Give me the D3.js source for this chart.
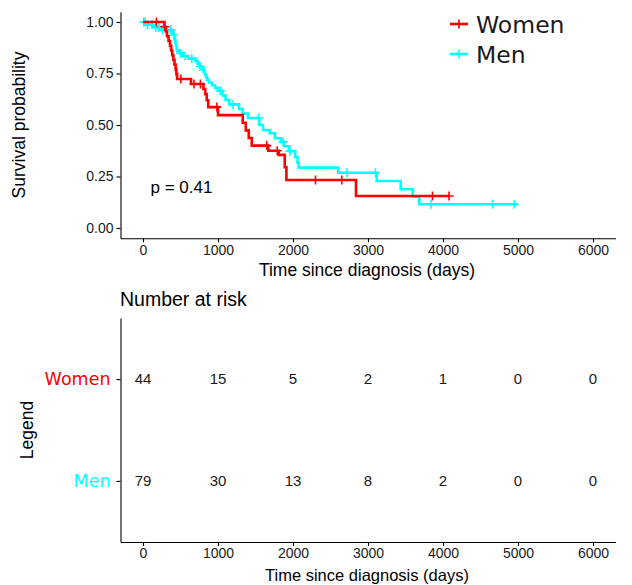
<!DOCTYPE html>
<html>
<head>
<meta charset="utf-8">
<script src="https://cdn.jsdelivr.net/npm/d3@7"></script>
<style>
  body { margin: 0; background: #fff; }
  text { font-family: "Liberation Sans", Arial, sans-serif; }
</style>
</head>
<body>
<svg id="chart" width="632" height="585"></svg>
<script>
// Kaplan-Meier step points (time in days, survival after the event)
let women_time = [0, 285, 305, 320, 340, 360, 375, 390, 405, 420, 435, 445, 455, 640, 805, 830, 850, 870, 1000, 1330, 1370, 1410, 1450, 1670, 1810, 1890, 1912, 2840, 4093]
let women_surv = [1, 0.977, 0.954, 0.931, 0.908, 0.885, 0.862, 0.839, 0.816, 0.793, 0.770, 0.747, 0.723, 0.699, 0.675, 0.650, 0.620, 0.587, 0.548, 0.511, 0.474, 0.437, 0.400, 0.375, 0.355, 0.295, 0.233, 0.155, 0.155]
let women_censor = [180, 290, 505, 680, 765, 985, 1650, 1790, 2300, 2650, 3860, 4080]

let men_time = [0, 60, 130, 250, 390, 405, 415, 425, 432, 440, 447, 453, 480, 530, 600, 700, 730, 760, 790, 810, 825, 840, 855, 880, 920, 960, 1000, 1060, 1100, 1150, 1280, 1330, 1400, 1550, 1600, 1690, 1760, 1840, 1880, 1950, 2030, 2060, 2075, 2604, 3116, 3436, 3596, 3684, 4991]
let men_surv = [1, 0.987, 0.975, 0.962, 0.949, 0.937, 0.924, 0.911, 0.899, 0.886, 0.873, 0.861, 0.848, 0.835, 0.822, 0.810, 0.797, 0.784, 0.771, 0.758, 0.745, 0.732, 0.719, 0.706, 0.693, 0.680, 0.666, 0.644, 0.622, 0.600, 0.578, 0.556, 0.534, 0.500, 0.476, 0.460, 0.436, 0.418, 0.397, 0.373, 0.345, 0.317, 0.293, 0.268, 0.228, 0.188, 0.152, 0.115, 0.115]
let men_censor = [10, 30, 60, 120, 170, 210, 260, 365, 410, 500, 560, 650, 760, 1030, 1200, 1540, 1870, 1960, 2720, 3100, 3840, 4660, 4950]

let groups = ["Women", "Men"]
let group_colors = ["#FF0000", "#00FFFF"]
let x_ticks = [0, 1000, 2000, 3000, 4000, 5000, 6000]
let y_ticks = [0, 0.25, 0.5, 0.75, 1]
let women_risk = [44, 15, 5, 2, 1, 0, 0]
let men_risk = [79, 30, 13, 8, 2, 0, 0]
let p_value = "p = 0.41"

let svg = d3.select("#chart")

let x = d3.scaleLinear()
    .domain([-300, 6300])
    .range([120.5, 615.5])

let y = d3.scaleLinear()
    .domain([-0.05, 1.05])
    .range([238.3, 11.7])

let y_risk = d3.scalePoint()
    .domain(groups)
    .range([318, 542])
    .padding(0.6)

function style_axis(g) {
  g.select(".domain").attr("stroke", "#000").attr("stroke-width", 1.1)
  g.selectAll(".tick line").attr("stroke", "#000").attr("stroke-width", 1.1)
  g.selectAll(".tick text")
      .attr("fill", "#1a1a1a")
      .style("font-size", "14px")
      .style("font-family", "'Liberation Sans', Arial, sans-serif")
}

// ---- survival plot ----
svg.append("g")
    .attr("transform", "translate(0,238.3)")
    .call(d3.axisBottom(x).tickValues(x_ticks).tickFormat(d3.format("d")).tickSize(4).tickPadding(3).tickSizeOuter(0))
    .call(style_axis)

svg.append("g")
    .attr("transform", "translate(120.5,0)")
    .call(d3.axisLeft(y).tickValues(y_ticks).tickFormat(d3.format(".2f")).tickSize(4).tickPadding(3).tickSizeOuter(0))
    .call(style_axis)

svg.append("text")
    .attr("x", 367)
    .attr("y", 276)
    .attr("text-anchor", "middle")
    .style("font-size", "17.5px")
    .text("Time since diagnosis (days)")

svg.append("text")
    .attr("transform", "translate(25," + y(0.5) + ") rotate(-90)")
    .attr("text-anchor", "middle")
    .style("font-size", "17.5px")
    .text("Survival probability")

let line = d3.line()
    .curve(d3.curveStepAfter)
    .x(function(d) { return x(d[0]) })
    .y(function(d) { return y(d[1]) })

function surv_at(times, survs, t) {
  let i = d3.bisectRight(times, t) - 1
  return survs[Math.max(0, i)]
}

let curves = [
  { times: women_time, survs: women_surv, censor: women_censor, color: group_colors[0] },
  { times: men_time, survs: men_surv, censor: men_censor, color: group_colors[1] }
]

let cross = function(s) { return "M" + (-s) + ",0H" + s + "M0," + (-s) + "V" + s }

// men drawn first so the women curve sits on top where they overlap
curves.slice().reverse().forEach(function(c) {
  svg.append("path")
      .datum(d3.zip(c.times, c.survs))
      .attr("d", line)
      .attr("fill", "none")
      .attr("stroke", c.color)
      .attr("stroke-width", 2.6)

  svg.selectAll(null)
      .data(c.censor)
      .enter().append("path")
        .attr("transform", function(d) {
          return "translate(" + x(d) + "," + y(surv_at(c.times, c.survs, d)) + ")"
        })
        .attr("d", cross(4.5))
        .attr("stroke", c.color)
        .attr("stroke-width", 1.6)
})

svg.append("text")
    .attr("x", x(100))
    .attr("y", 193)
    .style("font-size", "17px")
    .text(p_value)

// legend
let legend = svg.selectAll(".legend")
    .data(groups).enter()
      .append("g")
        .classed("legend", true)
        .attr("transform", function(d, i) { return "translate(450," + (24 + i * 30) + ")" })

legend.append("line")
    .attr("x1", 0).attr("x2", 18)
    .attr("stroke", function(d, i) { return group_colors[i] })
    .attr("stroke-width", 2.6)

legend.append("path")
    .attr("transform", "translate(9,0)")
    .attr("d", cross(4.5))
    .attr("stroke", function(d, i) { return group_colors[i] })
    .attr("stroke-width", 1.6)

legend.append("text")
    .attr("x", 26)
    .attr("y", 9)
    .style("font-family", "'DejaVu Sans', Verdana, sans-serif")
    .style("font-size", "23.5px")
    .attr("fill", "#1a1a1a")
    .text(function(d) { return d })

// ---- number at risk table ----
svg.append("g")
    .attr("transform", "translate(0,542)")
    .call(d3.axisBottom(x).tickValues(x_ticks).tickFormat(d3.format("d")).tickSize(4).tickPadding(2).tickSizeOuter(0))
    .call(style_axis)

let risk_axis = svg.append("g")
    .attr("transform", "translate(120.5,0)")
    .call(d3.axisLeft(y_risk).tickSize(4).tickPadding(6).tickSizeOuter(0))
    .call(style_axis)

risk_axis.selectAll(".tick text")
    .attr("fill", function(d, i) { return group_colors[i] })
    .style("font-family", "'DejaVu Sans', Verdana, sans-serif")
    .style("font-size", "17.5px")

svg.append("text")
    .attr("x", 120)
    .attr("y", 306)
    .style("font-size", "19.5px")
    .text("Number at risk")

svg.append("text")
    .attr("transform", "translate(33," + ((y_risk("Women") + y_risk("Men")) / 2) + ") rotate(-90)")
    .attr("text-anchor", "middle")
    .style("font-size", "17.5px")
    .text("Legend")

let risk_rows = [women_risk, men_risk]
risk_rows.forEach(function(row, i) {
  svg.selectAll(null)
      .data(row)
      .enter().append("text")
        .attr("x", function(d, j) { return x(x_ticks[j]) })
        .attr("y", y_risk(groups[i]))
        .attr("dy", "0.35em")
        .attr("text-anchor", "middle")
        .attr("fill", "#1a1a1a")
        .style("font-size", "15px")
        .text(function(d) { return d })
})

svg.append("text")
    .attr("x", 367)
    .attr("y", 581)
    .attr("text-anchor", "middle")
    .style("font-size", "16.5px")
    .text("Time since diagnosis (days)")
</script>
</body>
</html>
